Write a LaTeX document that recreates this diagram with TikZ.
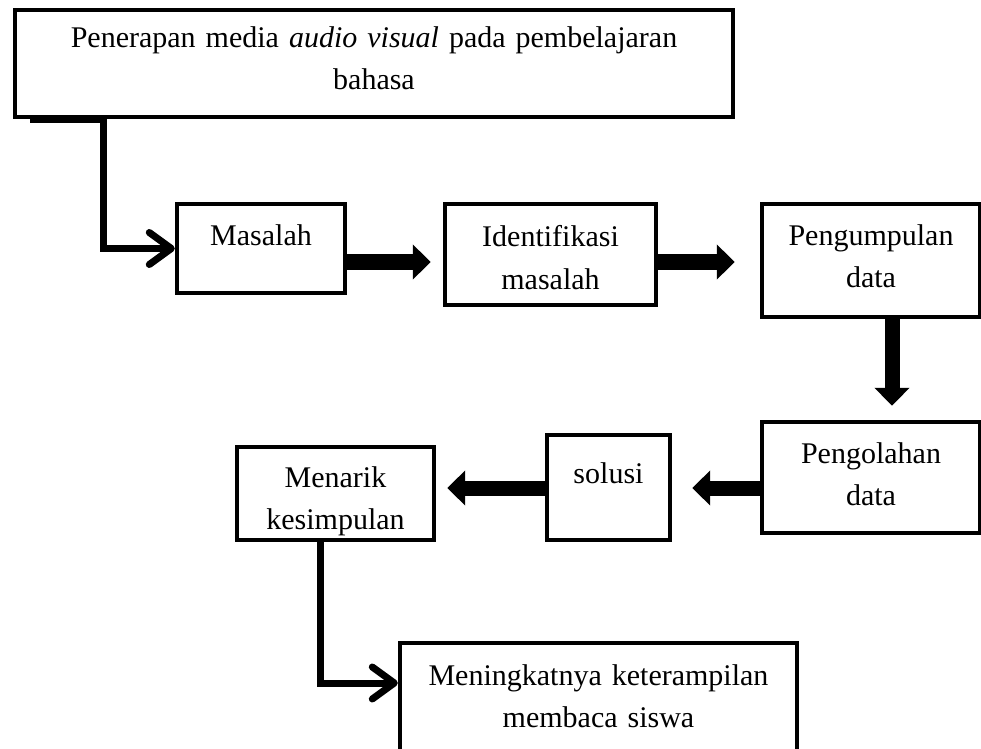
\documentclass[tikz,border=0pt]{standalone}
\usepackage{fontspec}
\setmainfont{Liberation Serif}
\usepackage{tikz}
\usetikzlibrary{positioning,arrows.meta,calc}

\begin{document}
\begin{tikzpicture}[
        x=0.5pt, y=-0.5pt,
        box/.style={rectangle, draw=black, fill=white, line width=2.2pt,
          inner ysep=0pt, inner xsep=2pt, align=center, anchor=base,
        font=\fontsize{15}{21}\selectfont},
        blockarr/.style={-{Triangle[length=9pt, width=17pt]},
        line width=7.5pt},
        elbow/.style={-{Straight Barb[length=11pt, width=16pt, line width=3.5pt, round]},
        line width=3.5pt, line join=miter},
      ]
      \useasboundingbox (0,0) rectangle (981,749);

      % =================== BOXES ===================
      \node[box, minimum width=359pt, text width=340pt, text height=19pt,
      text depth=34.5pt] (penerapan) at (374,48)
      {Penerapan media \textit{audio visual} pada pembelajaran\\bahasa};

      \node[box, minimum width=84pt, text width=75pt, text height=21pt,
      text depth=23.5pt] (masalah) at (261,246) {Masalah};
      \node[box, minimum width=105.5pt, text width=95pt, text height=21.5pt,
      text depth=29pt] (identifikasi) at (550.5,247) {Identifikasi\\masalah};
      \node[box, minimum width=109pt, text width=100pt, text height=20.5pt,
      text depth=36pt] (pengumpulan) at (871,245) {Pengumpulan\\data};

      \node[box, minimum width=109pt, text width=100pt, text height=20.5pt,
      text depth=35pt] (pengolahan) at (871,463) {Pengolahan\\data};
      \node[box, minimum width=61.5pt, text width=55pt, text height=24pt,
      text depth=28.5pt] (solusi) at (608.5,483) {solusi};
      \node[box, minimum width=98.5pt, text width=90pt, text height=20pt,
      text depth=26.5pt] (menarik) at (335.5,487) {Menarik\\kesimpulan};

      \node[box, minimum width=198.5pt, text width=190pt, text height=21pt,
      text depth=45pt] (meningkat) at (598.5,685)
      {Meningkatnya keterampilan\\membaca siswa};

      % =================== CONNECTIONS ===================
      \coordinate (rowA) at (0,262);
      \coordinate (rowB) at (0,488);
      \coordinate (rowC) at (0,683);
      \coordinate (colA) at (892,0);
      \coordinate (colB) at (103,0);
      \coordinate (colC) at (320,0);

      % top row, left to right
      \draw[blockarr, shorten >=6pt]
      (masalah.east |- rowA) -- (identifikasi.west |- rowA);
      \draw[blockarr, shorten >=12.5pt]
      (identifikasi.east |- rowA) -- (pengumpulan.west |- rowA);

      % down on the right
      \draw[blockarr, shorten >=7pt]
      (pengumpulan.south -| colA) -- (pengolahan.north -| colA);

      % bottom row, right to left
      \draw[blockarr, shorten >=10pt]
      (pengolahan.west |- rowB) -- (solusi.east |- rowB);
      \draw[blockarr, shorten >=5.5pt]
      (solusi.west |- rowB) -- (menarik.east |- rowB);

      % elbow connectors
      \draw[elbow] ([xshift=8.5pt]penerapan.south west)
      -- (penerapan.south -| colB) |- (masalah.west);
      \draw[elbow] (menarik.south -| colC) |- (meningkat.west |- rowC);

    \end{tikzpicture}
\end{document}
